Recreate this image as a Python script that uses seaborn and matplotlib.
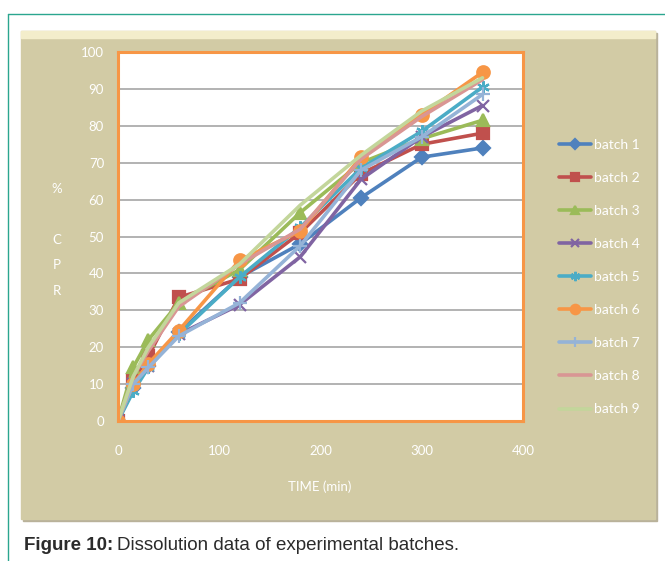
import matplotlib
matplotlib.use("Agg")
import matplotlib.pyplot as plt
from matplotlib.patches import Rectangle
from matplotlib.lines import Line2D
import numpy as np
import pandas as pd
import seaborn as sns

# Dissolution profiles (% cumulative percent released vs time in minutes)
time_min = [0, 15, 30, 60, 120, 180, 240, 300, 360]
batch_1 = [0, 9, 15, 24, 39, 48, 60.5, 71.5, 74]
batch_2 = [0, 11, 17.5, 33.5, 38.5, 51, 67, 75, 78]
batch_3 = [0, 14.5, 22, 32, 41, 56.5, 70, 76.5, 81.5]
batch_4 = [0, 10, 15, 23.5, 31.5, 44.5, 65.5, 77, 85.5]
batch_5 = [0, 8, 14.5, 23.5, 39, 52.5, 68.5, 78.5, 90.5]
batch_6 = [0, 10, 15.5, 24.5, 43.5, 51.5, 71.5, 83, 94.5]
batch_7 = [0, 10, 14.5, 23, 32, 47.5, 68, 77, 88.5]
batch_8 = [0, 12, 19, 31, 42.5, 52, 71, 82.5, 92.5]
batch_9 = [0, 12, 20, 32, 42.5, 58.5, 72, 84, 93]

batch_names = ["batch 1", "batch 2", "batch 3", "batch 4", "batch 5",
               "batch 6", "batch 7", "batch 8", "batch 9"]
batch_values = [batch_1, batch_2, batch_3, batch_4, batch_5,
                batch_6, batch_7, batch_8, batch_9]

x_ticks = [0, 100, 200, 300, 400]
y_ticks = [0, 10, 20, 30, 40, 50, 60, 70, 80, 90, 100]

colors = ["#4F81BD", "#C0504D", "#9BBB59", "#8064A2", "#4BACC6",
          "#F79646", "#95B3D7", "#D99694", "#C3D69B"]
asterisk = (6, 2, 0)
marker_list = ["D", "s", "^", "x", asterisk, "o", "+", None, None]
marker_sizes = [7, 8, 8.5, 8, 9, 9, 10, 0, 0]

sns.set_theme(style="white")
plt.rcParams["font.family"] = ["Lato", "DejaVu Sans"]

W, H = 665, 561
fig = plt.figure(figsize=(W / 100, H / 100), dpi=100)
fig.patch.set_facecolor("white")

def fx(px):
    return px / W

def fy(py):
    return 1 - py / H

# page frame lines
fig.add_artist(Line2D([fx(8), fx(8)], [0, fy(14)], color="#2BA68F", lw=1.0))
fig.add_artist(Line2D([fx(8), 1], [fy(14), fy(14)], color="#2BA68F", lw=1.0))

# chart area background with light top bevel and shadowed bottom edge
x0, x1, y0, y1 = 21, 655, 31, 519
fig.add_artist(Rectangle((fx(x0 + 2), fy(y1 + 2)), fx(x1 - x0), fy(y0) - fy(y1),
                         transform=fig.transFigure, color="#B9B29A", zorder=0))
fig.add_artist(Rectangle((fx(x0), fy(y1)), fx(x1 - x0), fy(y0) - fy(y1),
                         transform=fig.transFigure, color="#D2CBA5", zorder=0))
fig.add_artist(Rectangle((fx(x0), fy(y0 + 7)), fx(x1 - x0), fy(y0) - fy(y0 + 7),
                         transform=fig.transFigure, color="#F3EDCB", zorder=0))

ax = fig.add_axes([fx(118), fy(421), fx(523 - 118), fy(52) - fy(421)])
ax.set_facecolor("white")

for name, vals, col, mk, ms in zip(batch_names, batch_values, colors,
                                   marker_list, marker_sizes):
    d = pd.DataFrame({"time": time_min, "cpr": vals})
    kw = {}
    if mk is not None:
        kw = dict(marker=mk, markersize=ms, markeredgewidth=1.6,
                  markerfacecolor=col, markeredgecolor=col)
    sns.lineplot(data=d, x="time", y="cpr", color=col, linewidth=2.6,
                 label=name, ax=ax, sort=False, **kw)

ax.set_xlim(0, 400)
ax.set_ylim(0, 100)
ax.set_xticks(x_ticks)
ax.set_yticks(y_ticks)
ax.yaxis.grid(True, color="#A6A6A6", lw=1.2)
ax.xaxis.grid(False)
ax.set_axisbelow(True)
for s in ax.spines.values():
    s.set_visible(True)
    s.set_color("#F79646")
    s.set_linewidth(2.2)
ax.tick_params(axis="both", length=0, labelcolor="white", labelsize=9.5)
ax.tick_params(axis="y", pad=10)
ax.tick_params(axis="x", pad=17)
ax.set_xlabel("")
ax.set_ylabel("")

fig.text(fx(320), fy(487), "TIME (min)", color="white", fontsize=9.5,
         ha="center", va="center")
fig.text(fx(57), fy(240), "%\n\nC\nP\nR", color="white", fontsize=9.5,
         ha="center", va="center", linespacing=2.35)

handles, labels = ax.get_legend_handles_labels()
if ax.get_legend() is not None:
    ax.get_legend().remove()
leg = fig.legend(handles, labels, loc="upper left",
                 bbox_to_anchor=(fx(553), fy(133)), frameon=False,
                 fontsize=10, labelcolor="white", handlelength=2.3,
                 handletextpad=0.25, labelspacing=1.52, borderaxespad=0,
                 markerscale=0.75)

# caption
renderer = fig.canvas.get_renderer()
cap_bold = fig.text(fx(24), fy(546), "Figure 10:", fontsize=13.5, fontweight="bold",
                    family="Liberation Sans", color="#2B2B2B", va="center")
bb = cap_bold.get_window_extent(renderer=renderer)
fig.text(bb.x1 / W + fx(4), fy(546), "Dissolution data of experimental batches.",
         fontsize=13.5, family="Liberation Sans", color="#2B2B2B", va="center")

fig.savefig("out.png", dpi=100, facecolor="white")
